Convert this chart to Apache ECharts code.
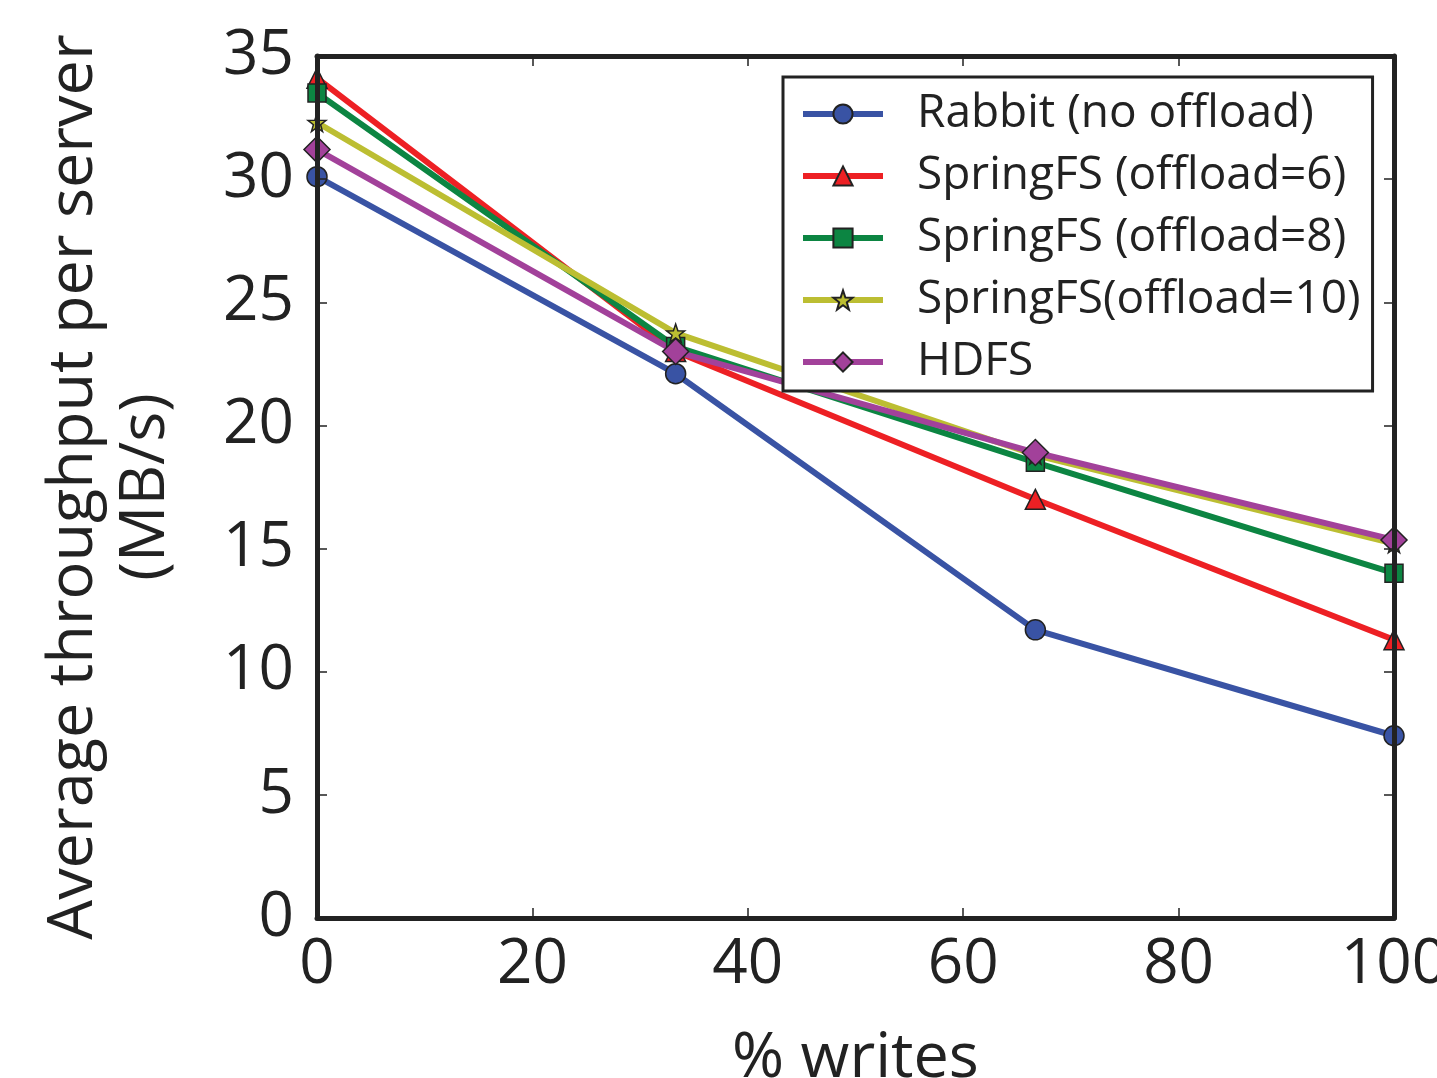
<!DOCTYPE html>
<html>
<head>
<meta charset="utf-8">
<script src="https://cdn.jsdelivr.net/npm/echarts@6/dist/echarts.min.js"></script>
<style>
  html, body { margin: 0; padding: 0; background: #fff; }
  #chart { width: 1437px; height: 1078px; }
</style>
</head>
<body>
<div id="chart"></div>
<script>
// data
var writesPct = [0, 33.3, 66.7, 100];
var rabbit = [30.1, 22.1, 11.7, 7.4];
var spring6 = [34.1, 23.0, 17.0, 11.3];
var spring8 = [33.5, 23.2, 18.5, 14.0];
var spring10 = [32.3, 23.75, 18.8, 15.2];
var hdfs = [31.2, 23.0, 18.9, 15.35];
var seriesNames = ['Rabbit (no offload)', 'SpringFS (offload=6)', 'SpringFS (offload=8)', 'SpringFS(offload=10)', 'HDFS'];
var xTicks = [0, 20, 40, 60, 80, 100];

var FONT = 'Open Sans';
var star = 'path://M0,-10 L2.35,-3.24 9.51,-3.09 3.8,1.24 5.88,8.09 0,4 -5.88,8.09 -3.8,1.24 -9.51,-3.09 -2.35,-3.24Z';

function pairs(vals) {
  return vals.map(function (v, i) { return [writesPct[i], v]; });
}

function mkSeries(name, vals, color, symbol, size) {
  return {
    name: name,
    type: 'line',
    data: pairs(vals),
    symbol: symbol,
    symbolSize: size,
    clip: false,
    lineStyle: { width: 6, color: color },
    itemStyle: { color: color, borderColor: '#222', borderWidth: 1.5 },
    emphasis: { disabled: true },
    animation: false
  };
}

var frameTick = { inside: true, length: 10, lineStyle: { color: '#222', width: 1.5 } };
var frameLine = { show: true, onZero: false, lineStyle: { color: '#222', width: 5 } };

var chart = echarts.init(document.getElementById('chart'));
chart.setOption({
  backgroundColor: '#fff',
  textStyle: { fontFamily: FONT },
  grid: { left: 317, right: 43, top: 56, bottom: 160, containLabel: false, outerBoundsMode: 'none' },
  legend: {
    left: 783, top: 77,
    orient: 'vertical',
    backgroundColor: '#fff',
    borderColor: '#222', borderWidth: 3, borderRadius: 0,
    padding: [14, 12, 6, 17],
    itemWidth: 80, itemHeight: 24, itemGap: 16,
    lineStyle: { width: 6 },
    textStyle: { fontSize: 46, lineHeight: 46, fontFamily: FONT, color: '#222', padding: [0, 0, 0, 29] },
    data: seriesNames
  },
  xAxis: [{
    type: 'value', min: 0, max: 100, interval: 20,
    name: '% writes', nameLocation: 'middle', nameGap: 110,
    nameTextStyle: { fontSize: 63, color: '#222', fontFamily: FONT },
    axisLine: frameLine,
    axisTick: frameTick,
    axisLabel: { fontSize: 62, color: '#222', margin: 16, fontFamily: FONT,
      formatter: function (v) { return xTicks.indexOf(v) >= 0 ? String(v) : ''; } },
    splitLine: { show: false },
    z: 5
  }, {
    type: 'value', min: 0, max: 100, interval: 20, position: 'top',
    axisLine: frameLine,
    axisTick: frameTick,
    axisLabel: { show: false }, splitLine: { show: false },
    z: 5
  }],
  yAxis: [{
    type: 'value', min: 0, max: 35, interval: 5,
    name: 'Average throughput per server\n(MB/s)', nameLocation: 'middle', nameGap: 135,
    nameRotate: 90,
    nameTextStyle: { fontSize: 63, color: '#222', fontFamily: FONT, lineHeight: 72 },
    axisLine: frameLine,
    axisTick: frameTick,
    axisLabel: { fontSize: 62, color: '#222', margin: 23, fontFamily: FONT, padding: [10, 0, 0, 0] },
    splitLine: { show: false },
    z: 5
  }, {
    type: 'value', min: 0, max: 35, interval: 5, position: 'right',
    axisLine: frameLine,
    axisTick: frameTick,
    axisLabel: { show: false }, splitLine: { show: false },
    z: 5
  }],
  series: [
    mkSeries(seriesNames[0], rabbit, '#3953a4', 'circle', 20),
    mkSeries(seriesNames[1], spring6, '#ed2024', 'triangle', 20),
    mkSeries(seriesNames[2], spring8, '#0c8542', 'rect', 18),
    mkSeries(seriesNames[3], spring10, '#bcbe32', star, 18),
    mkSeries(seriesNames[4], hdfs, '#a2419a', 'diamond', 26)
  ]
});
</script>
</body>
</html>
